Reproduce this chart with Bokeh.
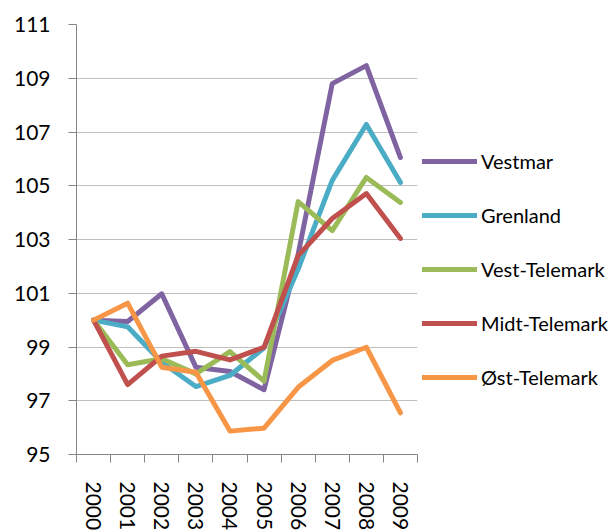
import math
from bokeh.plotting import figure
from bokeh.models import Range1d, FixedTicker, Legend, LegendItem
from bokeh.embed import file_html
from bokeh.resources import INLINE

years = ["2000", "2001", "2002", "2003", "2004", "2005", "2006", "2007", "2008", "2009"]
vestmar = [100.0, 99.95, 100.98, 98.25, 98.09, 97.41, 102.45, 108.8, 109.47, 106.05]
grenland = [100.0, 99.75, 98.43, 97.53, 97.94, 98.97, 101.9, 105.2, 107.28, 105.12]
vest_telemark = [100.0, 98.34, 98.56, 98.0, 98.83, 97.73, 104.41, 103.33, 105.31, 104.38]
midt_telemark = [100.0, 97.6, 98.66, 98.84, 98.52, 98.99, 102.4, 103.78, 104.71, 103.04]
ost_telemark = [100.0, 100.63, 98.25, 98.06, 95.87, 95.98, 97.5, 98.5, 98.99, 96.55]
y_ticks = [95, 97, 99, 101, 103, 105, 107, 109, 111]

series = [
    ("Vestmar", vestmar, "#8064A2"),
    ("Grenland", grenland, "#4BACC6"),
    ("Vest-Telemark", vest_telemark, "#9BBB59"),
    ("Midt-Telemark", midt_telemark, "#C0504D"),
    ("Øst-Telemark", ost_telemark, "#F79646"),
]

FONT = "Lato"
n = len(years)
xs = [i + 0.5 for i in range(n)]

p = figure(frame_width=341, frame_height=430, output_backend="svg", toolbar_location=None,
           x_range=Range1d(0, n), y_range=Range1d(min(y_ticks), max(y_ticks)),
           min_border_left=76, min_border_top=24, min_border_bottom=0, min_border_right=0)
p.outline_line_color = None
p.background_fill_color = "white"
p.border_fill_color = "white"

items = []
for name, vals, col in series:
    r = p.line(xs, vals, line_color=col, line_width=5, line_join="round", line_cap="round")
    items.append(LegendItem(label=name, renderers=[r]))

# y axis
p.yaxis.ticker = FixedTicker(ticks=y_ticks)
p.yaxis.axis_line_color = "#868686"
p.yaxis.major_tick_line_color = "#868686"
p.yaxis.major_tick_out = 8
p.yaxis.major_tick_in = 0
p.yaxis.minor_tick_line_color = None
p.yaxis.major_label_text_font = FONT
p.yaxis.major_label_text_font_size = "21px"
p.yaxis.major_label_text_color = "black"
p.yaxis.major_label_standoff = 18

# x axis
p.xaxis.ticker = FixedTicker(ticks=xs, minor_ticks=list(range(n + 1)))
p.xaxis.major_label_overrides = {x: y for x, y in zip(xs, years)}
p.xaxis.axis_line_color = "#868686"
p.xaxis.major_tick_line_color = None
p.xaxis.major_tick_out = 0
p.xaxis.major_tick_in = 0
p.xaxis.minor_tick_line_color = "#868686"
p.xaxis.minor_tick_out = 8
p.xaxis.minor_tick_in = 0
p.xaxis.major_label_orientation = -math.pi / 2
p.xaxis.major_label_text_font = FONT
p.xaxis.major_label_text_font_size = "21px"
p.xaxis.major_label_text_color = "black"
p.xaxis.major_label_standoff = 19

p.xgrid.grid_line_color = None
p.ygrid.ticker = FixedTicker(ticks=y_ticks)
p.ygrid.grid_line_color = "#BFBFBF"
p.ygrid.grid_line_width = 1

legend = Legend(items=items, location=(5, 65), orientation="vertical",
                label_text_font=FONT, label_text_font_size="20px", label_text_color="black",
                glyph_width=55, glyph_height=24, label_height=24, label_standoff=4,
                spacing=30, padding=0, margin=0, border_line_color=None,
                background_fill_alpha=0)
p.add_layout(legend, "right")

open("out.html", "w").write(file_html(p, INLINE))
